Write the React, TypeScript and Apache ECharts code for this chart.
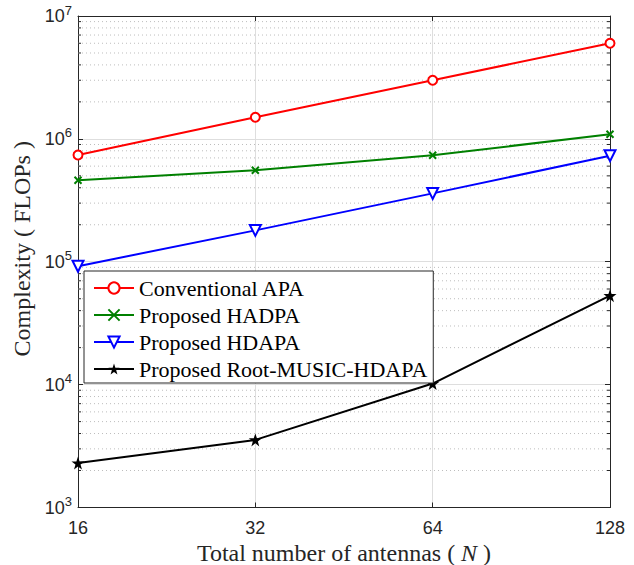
import React, { useEffect, useRef } from "react";
import * as echarts from "echarts";

const antennas = [16, 32, 64, 128];
const conventionalAPA = [7.4e5, 1.5e6, 3.0e6, 6.0e6];
const proposedHADPA = [4.6e5, 5.55e5, 7.35e5, 1.09e6];
const proposedHDAPA = [9.2e4, 1.8e5, 3.6e5, 7.3e5];
const proposedRootMusic = [2.3e3, 3.55e3, 1.02e4, 5.3e4];

const yDecades = [1e3, 1e4, 1e5, 1e6];
const minorMultipliers = [2, 3, 4, 5, 6, 7, 8, 9];
const yMin = 1e3;
const yMax = 1e7;
const xMin = 16;
const xMax = 128;

const STAR =
  "path://M50,0 L61.8,35.1 L98.1,35.1 L68.7,56.8 L79.4,91.9 L50,70 L20.6,91.9 L31.3,56.8 L1.9,35.1 L38.2,35.1 Z";
const CROSS = "path://M0,0L10,10M10,0L0,10";

const AXIS_COLOR = "#262626";
const SANS = "Liberation Sans";
const SERIF = "Liberation Serif";

export default function App() {
  const ref = useRef<HTMLDivElement>(null);
  useEffect(() => {
    if (!ref.current) return;
    const chart = echarts.init(ref.current, undefined, { renderer: "svg" });
    const pairs = (arr: number[]) => antennas.map((n, i) => [n, arr[i]]);
    const minorValues: number[][] = [];
    yDecades.forEach((d) => minorMultipliers.forEach((m) => minorValues.push([xMin, d * m])));

    const xAxisBase = {
      type: "log" as const,
      logBase: 2,
      min: xMin,
      max: xMax,
      splitNumber: 3,
      axisLine: { show: true, onZero: false, lineStyle: { color: AXIS_COLOR, width: 1 } },
      axisTick: { show: true, inside: true, length: 5, lineStyle: { color: AXIS_COLOR } },
    };
    const yAxisBase = {
      type: "log" as const,
      logBase: 10,
      min: yMin,
      max: yMax,
      splitNumber: 4,
      axisLine: { show: true, onZero: false, lineStyle: { color: AXIS_COLOR, width: 1 } },
      axisTick: { show: true, inside: true, length: 5, lineStyle: { color: AXIS_COLOR } },
    };

    chart.setOption({
      animation: false,
      backgroundColor: "#ffffff",
      grid: {
        left: 78,
        right: 24,
        top: 16,
        bottom: 57.5,
        containLabel: false,
        outerBoundsMode: "none",
      },
      legend: {
        orient: "vertical",
        left: 84,
        top: 271,
        backgroundColor: "#ffffff",
        borderColor: AXIS_COLOR,
        borderWidth: 1,
        padding: [6, 6, 3, 9],
        itemWidth: 40,
        itemHeight: 14,
        itemGap: 5,
        textStyle: { fontFamily: SERIF, fontSize: 22, color: "#000", lineHeight: 22 },
        data: ["Conventional APA", "Proposed HADPA", "Proposed HDAPA", "Proposed Root-MUSIC-HDAPA"],
      },
      xAxis: [
        {
          ...xAxisBase,
          position: "bottom",
          name: "Total number of antennas ( {i|N} )",
          nameLocation: "middle",
          nameGap: 31,
          nameTextStyle: {
            fontFamily: SERIF,
            fontSize: 24,
            color: AXIS_COLOR,
            rich: { i: { fontFamily: SERIF, fontSize: 24, fontStyle: "italic", color: AXIS_COLOR } },
          },
          axisLabel: {
            fontFamily: SANS,
            fontSize: 18,
            color: AXIS_COLOR,
            margin: 11,
            formatter: (v: number) => String(Math.round(v)),
          },
          splitLine: { show: true, lineStyle: { color: "#dedede", width: 1 } },
        },
        {
          ...xAxisBase,
          position: "top",
          axisLabel: { show: false },
          splitLine: { show: false },
        },
      ],
      yAxis: [
        {
          ...yAxisBase,
          position: "left",
          name: "Complexity ( FLOPs )",
          nameLocation: "middle",
          nameGap: 41,
          nameTextStyle: { fontFamily: SERIF, fontSize: 24, color: AXIS_COLOR, padding: [0, 0, 0, 26] },
          axisLabel: {
            margin: 6,
            formatter: (v: number) => `{b|10}{s|${Math.round(Math.log10(v))}}`,
            rich: {
              b: { fontFamily: SANS, fontSize: 18, color: AXIS_COLOR },
              s: { fontFamily: SANS, fontSize: 13, color: AXIS_COLOR, padding: [0, 0, 12, 0] },
            },
          },
          splitLine: { show: true, lineStyle: { color: "#dedede", width: 1 } },
        },
        {
          ...yAxisBase,
          position: "right",
          axisLabel: { show: false },
          splitLine: { show: false },
        },
      ],
      series: [
        {
          type: "custom",
          name: "minorGrid",
          silent: true,
          z: 1,
          xAxisIndex: 0,
          yAxisIndex: 0,
          data: minorValues,
          encode: { x: 0, y: 1 },
          renderItem: (_params: any, api: any) => {
            const v = api.value(1);
            const a = api.coord([xMin, v]);
            const b = api.coord([xMax, v]);
            return {
              type: "group",
              children: [
                {
                  type: "line",
                  shape: { x1: a[0], y1: a[1], x2: b[0], y2: b[1] },
                  style: { stroke: "#bdbdbd", lineWidth: 1, lineDash: [1, 3] },
                },
                {
                  type: "line",
                  shape: { x1: a[0], y1: a[1], x2: a[0] + 3, y2: a[1] },
                  style: { stroke: AXIS_COLOR, lineWidth: 1 },
                },
                {
                  type: "line",
                  shape: { x1: b[0] - 3, y1: b[1], x2: b[0], y2: b[1] },
                  style: { stroke: AXIS_COLOR, lineWidth: 1 },
                },
              ],
            };
          },
        },
        {
          type: "line",
          name: "Conventional APA",
          z: 3,
          data: pairs(conventionalAPA),
          symbol: "emptyCircle",
          symbolSize: 9,
          lineStyle: { color: "#ff0000", width: 2 },
          itemStyle: { color: "#ff0000", borderColor: "#ff0000", borderWidth: 2 },
        },
        {
          type: "line",
          name: "Proposed HADPA",
          z: 3,
          data: pairs(proposedHADPA),
          symbol: CROSS,
          symbolSize: 7,
          lineStyle: { color: "#008000", width: 2 },
          itemStyle: { color: "#008000", borderColor: "#008000", borderWidth: 2 },
        },
        {
          type: "line",
          name: "Proposed HDAPA",
          z: 3,
          data: pairs(proposedHDAPA),
          symbol: "emptyTriangle",
          symbolRotate: 180,
          symbolSize: 11,
          lineStyle: { color: "#0000ff", width: 2 },
          itemStyle: { color: "#0000ff", borderColor: "#0000ff", borderWidth: 2 },
        },
        {
          type: "line",
          name: "Proposed Root-MUSIC-HDAPA",
          z: 3,
          data: pairs(proposedRootMusic),
          symbol: STAR,
          symbolSize: 13,
          lineStyle: { color: "#000000", width: 2 },
          itemStyle: { color: "#000000", borderColor: "#000000", borderWidth: 0 },
        },
      ],
    });
    return () => chart.dispose();
  }, []);
  return (
    <div
      ref={ref}
      style={{ position: "fixed", left: 0, top: 0, width: 634, height: 565, background: "#fff" }}
    />
  );
}
